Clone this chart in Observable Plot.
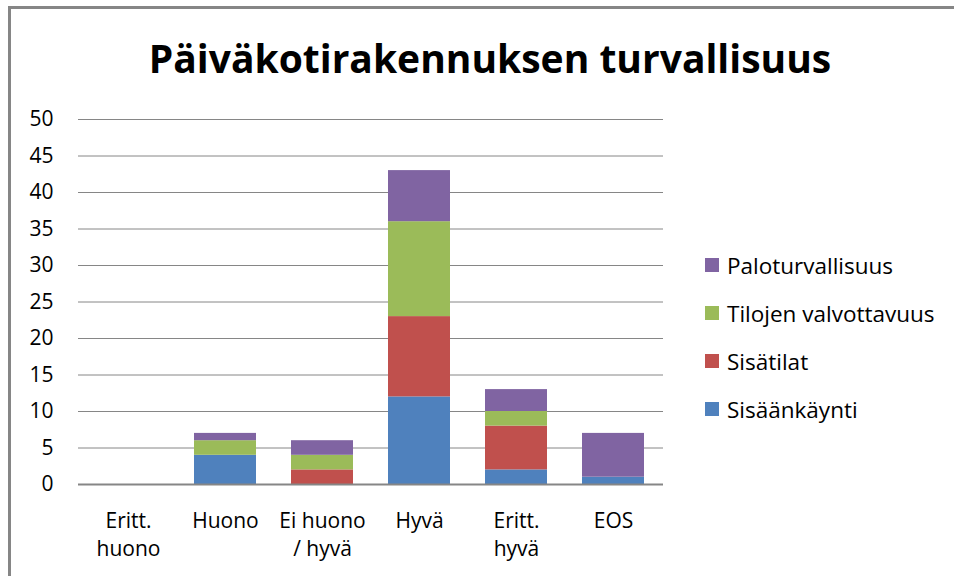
<!DOCTYPE html>
<html>
<head>
<meta charset="utf-8">
<script src="https://cdn.jsdelivr.net/npm/d3@7"></script>
<script src="https://cdn.jsdelivr.net/npm/@observablehq/plot@0.6"></script>
<style>
  html, body { margin: 0; padding: 0; background: #fff; }
  #wrap { position: relative; width: 954px; height: 576px; overflow: hidden; font-family: "Open Sans", Lato, sans-serif; }
  #frame { position: absolute; left: 8px; top: 6px; width: 2000px; height: 2000px; border-left: 3px solid #868686; border-top: 3px solid #868686; box-sizing: border-box; }
  #title { position: absolute; left: 0; width: 980px; top: 31px; text-align: center; font-size: 39px; font-weight: bold; color: #000; }
  #chart { position: absolute; left: 0; top: 100px; }
  #legend { position: absolute; left: 705px; top: 241px; }
  .item { display: flex; align-items: center; height: 48px; font-size: 22.5px; color: #000; }
  .sw { width: 14px; height: 14px; margin-right: 8px; }
</style>
</head>
<body>
<div id="wrap">
  <div id="frame"></div>
  <div id="title">Päiväkotirakennuksen turvallisuus</div>
  <div id="chart"></div>
  <div id="legend"></div>
</div>
<script>
const categories = ["Eritt.\nhuono", "Huono", "Ei huono\n/ hyvä", "Hyvä", "Eritt.\nhyvä", "EOS"];
const series = ["Sisäänkäynti", "Sisätilat", "Tilojen valvottavuus", "Paloturvallisuus"];
const colors = ["#4F81BD", "#C0504D", "#9BBB59", "#8064A2"];
const sisaankaynti = [0, 4, 0, 12, 2, 1];
const sisatilat = [0, 0, 2, 11, 6, 0];
const tilojenValvottavuus = [0, 2, 2, 13, 2, 0];
const paloturvallisuus = [0, 1, 2, 7, 3, 6];
const yTicks = [0, 5, 10, 15, 20, 25, 30, 35, 40, 45, 50];

const seriesValues = [sisaankaynti, sisatilat, tilojenValvottavuus, paloturvallisuus];
const data = [];
series.forEach((s, i) => categories.forEach((c, j) => data.push({category: c, series: s, value: seriesValues[i][j]})));

const gray = "#868686";
const chart = Plot.plot({
  width: 680,
  height: 476,
  marginLeft: 78,
  marginRight: 17,
  marginTop: 19,
  marginBottom: 92,
  style: {fontFamily: "'Open Sans', Lato, sans-serif", fontSize: "21px", color: "#000", background: "transparent"},
  x: {domain: categories, paddingInner: 0.36, paddingOuter: 0.18, label: null},
  y: {domain: [0, 50], label: null},
  color: {domain: series, range: colors},
  marks: [
    Plot.gridY(yTicks, {stroke: gray, strokeOpacity: 1, strokeWidth: 1}),
    Plot.barY(data, {x: "category", y: "value", fill: "series", order: series}),
    Plot.ruleY([0], {stroke: gray, strokeWidth: 2}),
    Plot.ruleX([0], {frameAnchor: "left", stroke: gray, strokeWidth: 1.5}),
    Plot.axisY(yTicks, {tickSize: 0, tickPadding: 25, label: null, fontSize: 21, fill: "#000"}),
    Plot.axisX({tickSize: 0, tickPadding: 23, label: null, fontSize: 21, fill: "#000", lineHeight: 1.35, textAnchor: "middle"})
  ]
});
document.getElementById("chart").appendChild(chart);

const legend = document.getElementById("legend");
series.slice().reverse().forEach((s) => {
  const i = series.indexOf(s);
  const it = document.createElement("div");
  it.className = "item";
  it.innerHTML = `<span class="sw" style="background:${colors[i]}"></span><span>${s}</span>`;
  legend.appendChild(it);
});
</script>
</body>
</html>
